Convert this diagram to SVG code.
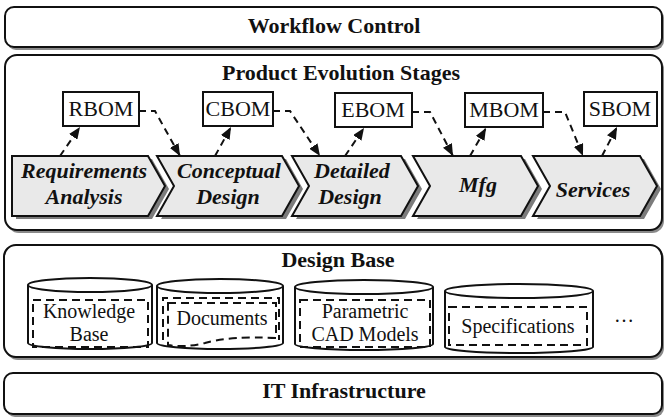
<svg xmlns="http://www.w3.org/2000/svg" width="667" height="418" viewBox="0 0 667 418">
<defs>
<style>
.layer{fill:#fff;stroke:#111;stroke-width:2}
.lshadow{fill:#8a8a8a}
text{font-family:'Liberation Serif','Tinos','Times New Roman','DejaVu Serif',serif}
.hdr{font-weight:bold;font-size:22px;fill:#111;text-anchor:middle}
.stage{font-weight:bold;font-style:italic;font-size:22px;fill:#111;text-anchor:middle}
.bomt{font-size:22px;fill:#111;text-anchor:middle}
.dbt{font-size:20px;fill:#111;text-anchor:middle}
.chev{fill:#e9e9e9;stroke:#111;stroke-width:2;stroke-linejoin:miter}
.chevsh{fill:#7c7c7c}
.bom{fill:#fff;stroke:#111;stroke-width:2}
.cyl{fill:#fff;stroke:#111;stroke-width:2}
.dash{fill:none;stroke:#111;stroke-width:2;stroke-dasharray:8 5}
.conn{fill:none;stroke:#111;stroke-width:2;stroke-dasharray:7 5}
</style>
<marker id="ah" viewBox="0 0 12 10" refX="12" refY="5" markerWidth="12" markerHeight="10" markerUnits="userSpaceOnUse" orient="auto">
<path d="M0,0 L12,5 L0,10 Z" fill="#111"/>
</marker>
</defs>

<g id="workflow-control">
<rect class="lshadow" x="7" y="9" width="657" height="41" rx="9"/>
<rect class="layer" x="5" y="7" width="657" height="40" rx="9"/>
<text class="hdr" x="334" y="33">Workflow Control</text>
</g>

<g id="product-evolution">
<rect class="lshadow" x="7" y="57" width="657" height="176" rx="12"/>
<rect class="layer" x="5" y="55" width="657" height="175" rx="12"/>
<text class="hdr" x="341" y="80">Product Evolution Stages</text>
</g>

<g id="design-base">
<rect class="lshadow" x="6" y="247" width="658" height="113" rx="12"/>
<rect class="layer" x="4" y="245" width="658" height="112" rx="12"/>
<text class="hdr" x="338" y="267">Design Base</text>
</g>

<g id="it-infrastructure">
<rect class="lshadow" x="6" y="375" width="658" height="42" rx="9"/>
<rect class="layer" x="4" y="373" width="658" height="41" rx="9"/>
<text class="hdr" x="344" y="398">IT Infrastructure</text>
</g>

<g id="stage-requirements">
<polygon class="chevsh" points="16,159 152,159 169,189 152,219 16,219"/>
<polygon class="chev" points="12,156 148,156 165,186 148,216 12,216"/>
<text class="stage" x="84" y="178">Requirements</text>
<text class="stage" x="84" y="204">Analysis</text>
</g>

<g id="stage-conceptual">
<polygon class="chevsh" points="161,159 286,159 303,189 286,219 161,219 178,189"/>
<polygon class="chev" points="157,156 282,156 299,186 282,216 157,216 174,186"/>
<text class="stage" x="229" y="178">Conceptual</text>
<text class="stage" x="228" y="204">Design</text>
</g>

<g id="stage-detailed">
<polygon class="chevsh" points="296,159 405,159 422,189 405,219 296,219 313,189"/>
<polygon class="chev" points="292,156 401,156 418,186 401,216 292,216 309,186"/>
<text class="stage" x="352" y="178">Detailed</text>
<text class="stage" x="350" y="204">Design</text>
</g>

<g id="stage-mfg">
<polygon class="chevsh" points="417,159 525,159 542,189 525,219 417,219 434,189"/>
<polygon class="chev" points="413,156 521,156 538,186 521,216 413,216 430,186"/>
<text class="stage" x="478" y="192">Mfg</text>
</g>

<g id="stage-services">
<polygon class="chevsh" points="537,159 644,159 661,189 644,219 537,219 554,189"/>
<polygon class="chev" points="533,156 640,156 657,186 640,216 533,216 550,186"/>
<text class="stage" x="593" y="197">Services</text>
</g>

<g id="rbom">
<rect class="bom" x="63" y="92" width="76" height="34"/>
<text class="bomt" x="101" y="116">RBOM</text>
</g>
<g id="cbom">
<rect class="bom" x="203" y="92" width="70" height="34"/>
<text class="bomt" x="238" y="116">CBOM</text>
</g>
<g id="ebom">
<rect class="bom" x="335" y="93" width="77" height="34"/>
<text class="bomt" x="373" y="117">EBOM</text>
</g>
<g id="mbom">
<rect class="bom" x="465" y="93" width="78" height="34"/>
<text class="bomt" x="504" y="117">MBOM</text>
</g>
<g id="sbom">
<rect class="bom" x="584" y="92" width="73" height="34"/>
<text class="bomt" x="620" y="116">SBOM</text>
</g>

<g id="connectors">
<path class="conn" d="M60,156 L80,127" marker-end="url(#ah)"/>
<path class="conn" d="M139,111 H155 L180,156" marker-end="url(#ah)"/>
<path class="conn" d="M215,156 L231,127" marker-end="url(#ah)"/>
<path class="conn" d="M273,111 H290 L320,156" marker-end="url(#ah)"/>
<path class="conn" d="M345,156 L364,128" marker-end="url(#ah)"/>
<path class="conn" d="M412,112 H430 L453,156" marker-end="url(#ah)"/>
<path class="conn" d="M470,156 L486,128" marker-end="url(#ah)"/>
<path class="conn" d="M543,112 H565 L583,156" marker-end="url(#ah)"/>
<path class="conn" d="M602,156 L617,127" marker-end="url(#ah)"/>
</g>

<g id="knowledge-base">
<path class="cyl" d="M28,285 V343 A62,6 0 0 0 152,343 V285"/>
<ellipse class="cyl" cx="90" cy="285" rx="62" ry="7"/>
<rect class="dash" x="33" y="300" width="115" height="47"/>
<text class="dbt" x="89" y="318">Knowledge</text>
<text class="dbt" x="89" y="341">Base</text>
</g>

<g id="documents">
<path class="cyl" d="M157,286 V343 A63,6 0 0 0 283,343 V286"/>
<ellipse class="cyl" cx="220" cy="286" rx="63" ry="7"/>
<path class="dash" d="M163,340 V298 H279 V340"/>
<path class="dash" d="M168,303 H276 V338 Q228,336 205,343 Q185,348 168,345 Z"/>
<text class="dbt" x="222" y="325">Documents</text>
</g>

<g id="cad-models">
<path class="cyl" d="M295,287 V344 A69,6 0 0 0 433,344 V287"/>
<ellipse class="cyl" cx="364" cy="287" rx="69" ry="7"/>
<rect class="dash" x="300" y="300" width="130" height="47"/>
<text class="dbt" x="365" y="318">Parametric</text>
<text class="dbt" x="365" y="341">CAD Models</text>
</g>

<g id="specifications">
<path class="cyl" d="M445,291 V347 A74,6 0 0 0 593,347 V291"/>
<ellipse class="cyl" cx="519" cy="291" rx="74" ry="7"/>
<rect class="dash" x="449" y="307" width="138" height="38"/>
<text class="dbt" x="518" y="333">Specifications</text>
</g>

<text class="dbt" x="624" y="322">…</text>
</svg>
